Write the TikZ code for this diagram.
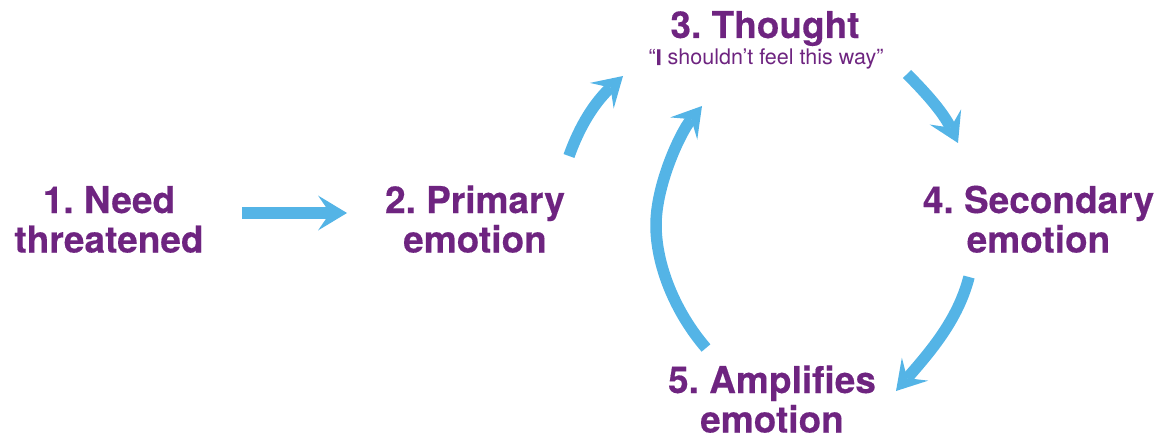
\documentclass[tikz,border=0pt]{standalone}
\usepackage{fontspec}
\setmainfont{TeX Gyre Heros}[BoldFeatures={FakeBold=0.3}]
\usetikzlibrary{arrows.meta}
\definecolor{plum}{RGB}{110,36,128}
\definecolor{sky}{RGB}{84,180,230}
\frenchspacing
\begin{document}
\begin{tikzpicture}[x=1pt,y=-1pt,
  lbl/.style={anchor=base, inner sep=0pt, text=plum, font=\bfseries\fontsize{37}{39.5}\selectfont},
  quote/.style={anchor=base, inner sep=0pt, text=plum, font=\fontsize{21.5}{24}\selectfont},
  flow/.style={draw=sky, line width=11.5pt, line cap=butt,
    -{Stealth[length=29pt,width=35pt,inset=12pt,line width=0pt]}}]
\useasboundingbox (0,0) rectangle (1162,441);
% labels
\node[lbl] (n1) at (109,213) {\begin{tabular}[t]{@{}c@{}}1. Need\\threatened\end{tabular}};
\node[lbl] (n2) at (475,213) {\begin{tabular}[t]{@{}c@{}}2. Primary\\emotion\end{tabular}};
\node[lbl] (n3) at (765,38) {3. Thought};
\node[quote] (q3) at (766,65) {“\textbf{I} shouldn’t feel this way”};
\node[lbl] (n4) at (1038.5,213) {\begin{tabular}[t]{@{}c@{}}4. Secondary\\emotion\end{tabular}};
\node[lbl] (n5) at (772,393) {\begin{tabular}[t]{@{}c@{}}5. Amplifies\\emotion\end{tabular}};
% connector end points
\coordinate (s12) at (242,213);
\coordinate (e12) at (347,213);
\coordinate (s23) at (569,156);
\coordinate (e23) at (623,76);
\coordinate (s34) at (907,74);
\coordinate (e34) at (958,143);
\coordinate (s45) at (969,277);
\coordinate (e45) at (896,391);
\coordinate (s53) at (706,348);
\coordinate (m53) at (656,225);
\coordinate (e53) at (702,106);
% connectors
\draw[flow] (s12) -- (e12);
\draw[flow] (s23) .. controls (580,125) and (595,102) .. (e23);
\draw[flow] (s34) .. controls (925,92) and (943,112) .. (e34);
\draw[flow] (s45) .. controls (958,320) and (930,352) .. (e45);
\draw[flow] (s53) .. controls (675,312) and (656,265) .. (m53)
                  .. controls (656,185) and (680,133) .. (e53);
\end{tikzpicture}
\end{document}
